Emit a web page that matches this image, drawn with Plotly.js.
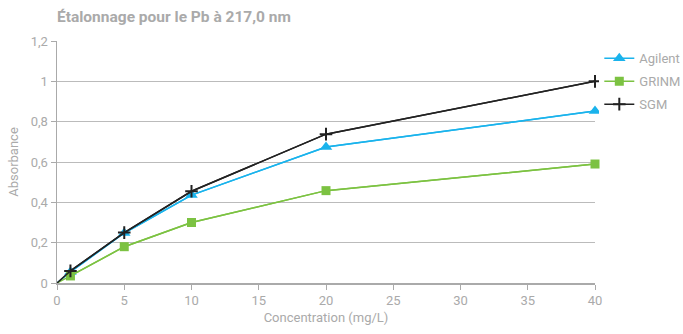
<!DOCTYPE html>
<html>
<head>
<meta charset="utf-8">
<script src="https://cdn.plot.ly/plotly-3.0.1.min.js"></script>
<style>html,body{margin:0;padding:0;background:#fff;}#chart{width:683px;height:334px;}</style>
</head>
<body>
<div id="chart"></div>
<script>
const concentrations = [0, 1, 5, 10, 20, 40];
const agilent = [0, 0.055, 0.248, 0.436, 0.674, 0.853];
const grinm = [0, 0.035, 0.18, 0.30, 0.458, 0.59];
const sgm = [0, 0.06, 0.25, 0.455, 0.738, 1.0];
const xTicks = [0, 5, 10, 15, 20, 25, 30, 35, 40];
const yTicks = [0, 0.2, 0.4, 0.6, 0.8, 1, 1.2];

const gray = '#aaaaaa';
function mk(name, y, color, symbol, size, mlw) {
  return [
    {x: concentrations, y: y, type: 'scatter', mode: 'lines', showlegend: false,
     legendgroup: name, line: {color: color, width: 1.5}, cliponaxis: false},
    {x: concentrations.slice(1), y: y.slice(1), name: name, type: 'scatter', mode: 'lines+markers',
     legendgroup: name, cliponaxis: false,
     line: {color: color, width: 1.5},
     marker: {symbol: symbol, color: color, size: size, line: {color: color, width: mlw}}}
  ];
}
const traces = [].concat(
  mk('Agilent', agilent, '#1ab3ec', 'triangle-up', 11, 0),
  mk('GRINM', grinm, '#7cc242', 'square', 9, 0),
  mk('SGM', sgm, '#222222', 'cross-thin', 9, 2)
);
const layout = {
  width: 683, height: 334,
  margin: {l: 57, r: 88, t: 41, b: 51, autoexpand: false},
  paper_bgcolor: '#fff', plot_bgcolor: '#fff',
  separators: ', ',
  font: {family: 'Roboto, sans-serif', color: gray, size: 13},
  title: {text: '<b>Étalonnage pour le Pb à 217,0 nm</b>', x: 57/683, xanchor: 'left', y: 0.95, yanchor: 'middle',
          font: {family: 'Roboto, sans-serif', size: 15.5, color: gray}},
  xaxis: {range: [0, 40], tickvals: xTicks, ticks: 'outside', ticklen: 5, tickcolor: gray,
          showline: true, linecolor: gray, linewidth: 1.5, showgrid: false, zeroline: false,
          tickfont: {size: 13, color: gray},
          title: {text: 'Concentration (mg/L)', font: {size: 13, color: gray}, standoff: 6}},
  yaxis: {range: [0, 1.2], tickvals: yTicks, ticks: 'outside', ticklen: 5, tickcolor: gray,
          showline: true, linecolor: gray, linewidth: 1.5, showgrid: true, gridcolor: '#bbbbbb', gridwidth: 1,
          zeroline: false, tickfont: {size: 13, color: gray},
          title: {text: 'Absorbance', font: {size: 13, color: gray}, standoff: 9}},
  legend: {x: 1.008, xanchor: 'left', y: 0.99, yanchor: 'top', font: {size: 13, color: gray},
           tracegroupgap: 3, itemwidth: 30},
  showlegend: true
};
Plotly.newPlot('chart', traces, layout, {displayModeBar: false, staticPlot: true});
</script>
</body>
</html>
